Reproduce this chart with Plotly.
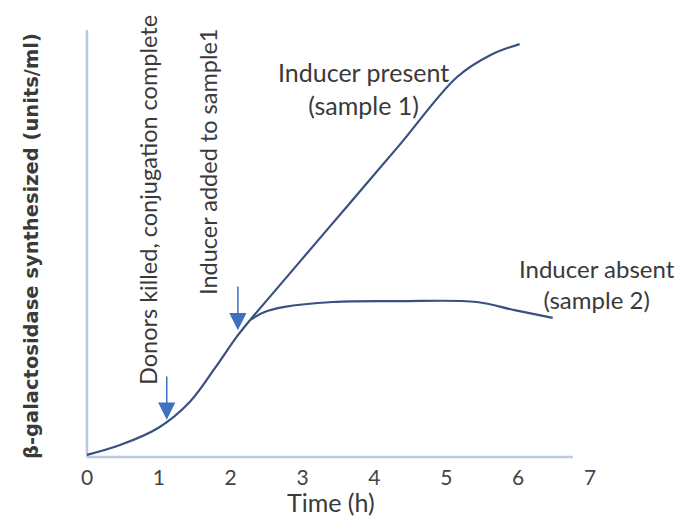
import plotly.graph_objects as go

# Time (h) and enzyme synthesized (arbitrary units, 0-100 scale)
common_t = [0.0, 0.46, 0.99, 1.43, 1.78, 2.09, 2.27]
common_y = [0.5, 2.8, 6.8, 12.9, 20.8, 28.3, 32.1]

present_t = [2.27, 2.96, 3.66, 4.35, 5.15, 5.61, 6.02]
present_y = [32.1, 45.7, 59.5, 73.1, 89.0, 94.1, 96.7]

absent_t = [2.27, 2.48, 2.73, 3.42, 4.35, 5.42, 5.95, 6.48]
absent_y = [32.1, 34.0, 35.1, 36.3, 36.5, 36.3, 34.4, 32.6]

tick_vals = [0, 1, 2, 3, 4, 5, 6, 7]
tick_text = ["0", "1", "2", "3", "4", "5", "6", "7"]

event_t = [1.11, 2.10]
event_tip_y = [8.7, 29.7]
event_tail_y = [19.2, 40.3]
event_labels = ["Donors killed, conjugation complete", "Inducer added to sample1"]

curve_color = "#3A5080"
axis_color = "#BCC8E0"
arrow_color = "#4070C0"
text_color = "#3A3A3A"
FONT = "Lato"

# page has an 8px body margin; figure is sized to fit inside it
OFF = 8
W, H = 686 - 2 * OFF, 525 - 2 * OFF
# plot area in page pixels
L, R, T, B = 80, 640, 20, 460
def px_x(px):
    return (px - L) / (R - L)
def px_y(py):
    return (B - py) / (B - T)

fig = go.Figure()
for t, y in [(common_t, common_y), (present_t, present_y), (absent_t, absent_y)]:
    fig.add_trace(go.Scatter(x=t, y=y, mode="lines",
                             line=dict(color=curve_color, width=2.2, shape="spline", smoothing=1.0),
                             hoverinfo="skip", showlegend=False))

# axes lines
fig.add_shape(type="line", x0=0, x1=0, y0=0, y1=100, xref="x", yref="y",
              line=dict(color=axis_color, width=2.5), layer="below")
fig.add_shape(type="line", x0=0, x1=6.76, y0=0, y1=0, xref="x", yref="y",
              line=dict(color=axis_color, width=2.5), layer="below")

# arrows
for t, tip, tail in zip(event_t, event_tip_y, event_tail_y):
    fig.add_annotation(x=t, y=tip, ax=t, ay=tail, xref="x", yref="y", axref="x", ayref="y",
                       text="", showarrow=True, arrowhead=2, arrowsize=2.3, arrowwidth=1.5,
                       arrowcolor=arrow_color)

def label(px, py, text, size, angle=0, family=FONT):
    fig.add_annotation(x=px_x(px), y=px_y(py), xref="paper", yref="paper",
                       xanchor="center", yanchor="middle",
                       text=text, textangle=angle, showarrow=False, align="center",
                       font=dict(family=family, size=size, color=text_color))

# rotated event labels
label(148, 200, event_labels[0], 23.5, -90)
label(208, 162, event_labels[1], 23.5, -90)

# curve labels
label(363, 88, "Inducer present<br>(sample 1)", 25)
label(597, 284, "Inducer absent<br>(sample 2)", 24)

# axis titles
label(331, 502, "Time (h)", 25)
label(31, 246, "<b>β-galactosidase synthesized (units/ml)</b>", 19.5, -90, "DejaVu Sans")

fig.update_layout(
    width=W, height=H,
    margin=dict(l=L - OFF, r=W - (R - OFF), t=T - OFF, b=H - (B - OFF)),
    paper_bgcolor="white", plot_bgcolor="white",
    font=dict(family=FONT, color=text_color),
    xaxis=dict(range=[-0.097, 7.695], tickvals=tick_vals, ticktext=tick_text,
               showgrid=False, zeroline=False, showline=False, ticks="",
               ticklabelstandoff=3, automargin=False,
               tickfont=dict(family=FONT, size=21, color="#444444")),
    yaxis=dict(range=[-0.70, 102.34], showticklabels=False, showgrid=False,
               zeroline=False, showline=False, ticks="", automargin=False),
)

fig.write_html("out.html")
